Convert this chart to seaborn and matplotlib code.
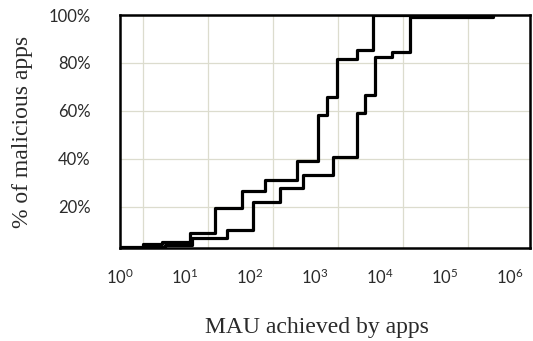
import matplotlib
matplotlib.use('Agg')
import matplotlib.pyplot as plt
import matplotlib.ticker as mticker
import seaborn as sns
import numpy as np
import pandas as pd

# ---------------------------------------------------------------------------
# Data: CDF of MAU for two groups of malicious apps
# ---------------------------------------------------------------------------
mau_a = [1, 2.26, 4.43, 11.9, 29, 75, 170, 528, 1110, 1530, 2180, 4430, 7800, 58800]
pct_a = [3.3, 4.6, 5.4, 9.2, 19.6, 26.7, 31.3, 39.2, 58.3, 65.8, 81.7, 85.4, 100, 100]

mau_b = [1, 2.43, 4.9, 12.8, 44, 111, 290, 653, 1890, 4430, 5880, 8380, 15300, 28900, 547000]
pct_b = [2.9, 3.3, 4.2, 7.1, 10.4, 22.1, 27.9, 33.3, 40.8, 59.2, 66.7, 82.5, 84.6, 99.2, 100]

x_ticks = [1, 10, 100, 1000, 10000, 100000, 1000000]
y_ticks = [20, 40, 60, 80, 100]
x_label = 'MAU achieved by apps'
y_label = '% of malicious apps'

sns.set_theme(style='white')
plt.rcParams['font.family'] = ['Lato', 'DejaVu Sans']
plt.rcParams['mathtext.default'] = 'regular'

fig = plt.figure(figsize=(5.33, 3.41), dpi=100)
ax = fig.add_axes([120 / 533, 93 / 341, 410 / 533, 233 / 341])

df_a = pd.DataFrame({'mau': mau_a, 'pct': pct_a})
df_b = pd.DataFrame({'mau': mau_b, 'pct': pct_b})
for df in (df_a, df_b):
    sns.lineplot(data=df, x='mau', y='pct', ax=ax, color='black', lw=2.3,
                 drawstyle='steps-post', estimator=None, sort=False)

ax.set_xscale('log')
ax.set_xlim(1, 10 ** 6.31)
ax.set_ylim(2.9, 100)

ax.xaxis.set_major_locator(mticker.FixedLocator(x_ticks))
ax.xaxis.set_minor_locator(mticker.FixedLocator([10 ** (k + 0.36) for k in range(6)]))
ax.xaxis.set_minor_formatter(mticker.NullFormatter())
ax.set_yticks(y_ticks)
ax.set_yticklabels([f'{v}%' for v in y_ticks])

# gridlines sit off the decade labels in the original
ax.grid(False)
ax.grid(True, which='minor', axis='x', color='#dcdcce', lw=0.9)
ax.grid(True, which='major', axis='y', color='#dcdcce', lw=0.9)

ax.tick_params(axis='both', which='both', length=0)
ax.tick_params(axis='x', pad=14, labelsize=12, colors='#2a2a2a')
ax.tick_params(axis='y', pad=21, labelsize=12, colors='#2a2a2a')

for sp in ax.spines.values():
    sp.set_color('black')
    sp.set_linewidth(1.8)

ax.set_xlabel(x_label, family='Liberation Serif', fontsize=17, color='#2a2a2a')
ax.set_ylabel(y_label, family='Liberation Serif', fontsize=17, color='#2a2a2a')
ax.xaxis.set_label_coords(0.48, -0.295)
ax.yaxis.set_label_coords(-0.239, 0.5)
ax.yaxis.label.set_va('center')

fig.savefig('out.png', dpi=100)
